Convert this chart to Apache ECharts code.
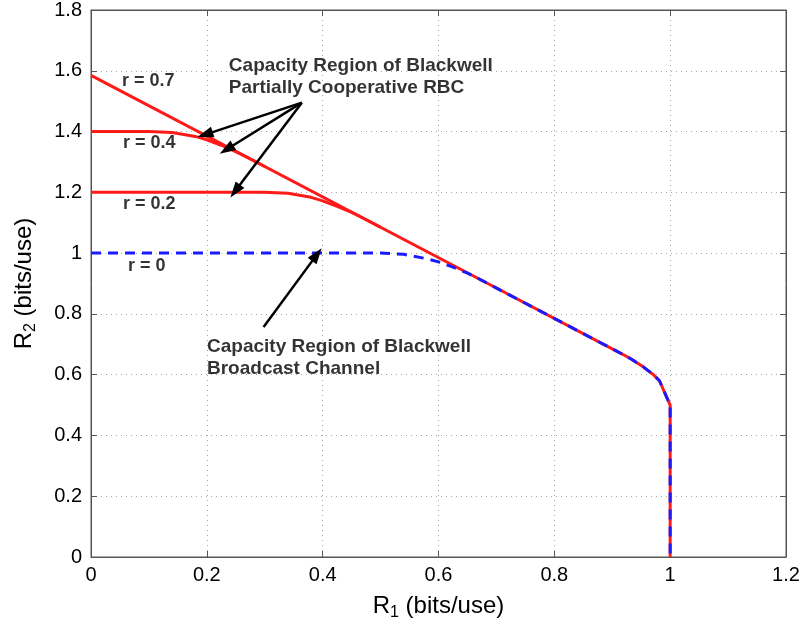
<!DOCTYPE html>
<html>
<head>
<meta charset="utf-8">
<script src="https://cdn.jsdelivr.net/npm/echarts@6/dist/echarts.min.js"></script>
<style>html,body{margin:0;padding:0;background:#fff;}#c{width:805px;height:626px;}</style>
</head>
<body>
<div id="c"></div>
<script>
// Tick values
const xTicks = [0, 0.2, 0.4, 0.6, 0.8, 1, 1.2];
const yTicks = [0, 0.2, 0.4, 0.6, 0.8, 1, 1.2, 1.4, 1.6, 1.8];

// Capacity boundaries [R1, R2]
const r07 = [[0,1.585],[0.667,0.918],[0.918,0.667],[0.934,0.65],[0.954,0.625],[0.971,0.6],[0.9815,0.58],[1,0.5],[1,0]];
const r04 = [[0,1.4],[0.1,1.4],[0.14,1.397],[0.18,1.384],[0.2,1.373],[0.225,1.355],[0.25,1.334],[0.267,1.318],[0.3,1.285]];
const r02 = [[0,1.2],[0.3,1.2],[0.34,1.197],[0.38,1.1835],[0.4,1.172],[0.425,1.154],[0.45,1.134],[0.467,1.118],[0.5,1.085]];
const r00 = [[0,1],[0.5,1],[0.54,0.996],[0.58,0.9815],[0.6,0.971],[0.625,0.954],[0.65,0.934],[0.667,0.918],[0.918,0.667],[0.934,0.65],[0.954,0.625],[0.971,0.6],[0.9815,0.58],[1,0.5],[1,0]];

// Text annotations [R1, R2, text]
const curveLabels = [[0.0535,1.565,'r = 0.7'],[0.0553,1.362,'r = 0.4'],[0.0553,1.160,'r = 0.2'],[0.064,0.956,'r = 0']];
const noteLabels = [[0.238,1.580,'Capacity Region of Blackwell\nPartially Cooperative RBC'],[0.2003,0.657,'Capacity Region of Blackwell\nBroadcast Channel']];

// Arrows [fromR1, fromR2, toR1, toR2]
const arrows = [[0.364,1.495,0.197,1.390],[0.364,1.495,0.234,1.341],[0.364,1.495,0.249,1.204],[0.298,0.757,0.390,0.995]];

const FONT = 'Liberation Sans, Arial, sans-serif';
const chart = echarts.init(document.getElementById('c'), null, {renderer:'canvas'});

const gridLine = {show:true, lineStyle:{color:'#a8a8a8', type:[1,4], width:1}};
const axisLineStyle = {show:true, onZero:false, lineStyle:{color:'#555', width:1}};

chart.setOption({
  animation:false,
  backgroundColor:'#fff',
  grid:{left:91, right:19, top:10, bottom:69, show:true, borderColor:'#555', borderWidth:1},
  xAxis:[{
    type:'value', min:0, max:1.2, interval:0.2, position:'bottom',
    axisLine:axisLineStyle,
    axisTick:{show:true, inside:true, length:6, lineStyle:{color:'#555'}},
    axisLabel:{color:'#000', fontSize:20, fontFamily:FONT, margin:8,
      formatter:function(v){ return xTicks.indexOf(+v.toFixed(1))>=0 ? String(+v.toFixed(1)) : ''; }},
    splitLine:gridLine,
    name:'{a|R}{s|1}{a| (bits/use)}', nameLocation:'middle', nameGap:34,
    nameTextStyle:{color:'#000', fontFamily:FONT, rich:{
      a:{fontSize:24, fontFamily:FONT, color:'#000', lineHeight:30, verticalAlign:'middle'},
      s:{fontSize:16, fontFamily:FONT, color:'#000', lineHeight:30, verticalAlign:'bottom', padding:[14,0,0,0]}}}
  },{
    type:'value', min:0, max:1.2, interval:0.2, position:'top',
    axisLine:axisLineStyle,
    axisTick:{show:true, inside:true, length:6, lineStyle:{color:'#555'}},
    axisLabel:{show:false}, splitLine:{show:false}
  }],
  yAxis:[{
    type:'value', min:0, max:1.8, interval:0.2, position:'left',
    axisLine:axisLineStyle,
    axisTick:{show:true, inside:true, length:6, lineStyle:{color:'#555'}},
    axisLabel:{color:'#000', fontSize:20, fontFamily:FONT, margin:9,
      formatter:function(v){ return yTicks.indexOf(+v.toFixed(1))>=0 ? String(+v.toFixed(1)) : ''; }},
    splitLine:gridLine,
    name:'{a|R}{s|2}{a| (bits/use)}', nameLocation:'middle', nameGap:52,
    nameTextStyle:{color:'#000', fontFamily:FONT, rich:{
      a:{fontSize:24, fontFamily:FONT, color:'#000', lineHeight:30, verticalAlign:'middle'},
      s:{fontSize:16, fontFamily:FONT, color:'#000', lineHeight:30, verticalAlign:'bottom', padding:[14,0,0,0]}}}
  },{
    type:'value', min:0, max:1.8, interval:0.2, position:'right',
    axisLine:axisLineStyle,
    axisTick:{show:true, inside:true, length:6, lineStyle:{color:'#555'}},
    axisLabel:{show:false}, splitLine:{show:false}
  }],
  series:[
    {type:'line', data:r07, symbol:'none', lineStyle:{color:'#ff1a1a', width:3}, z:2},
    {type:'line', data:r04, symbol:'none', lineStyle:{color:'#ff1a1a', width:3}, z:2},
    {type:'line', data:r02, symbol:'none', lineStyle:{color:'#ff1a1a', width:3}, z:2},
    {type:'line', data:r00, symbol:'none', lineStyle:{color:'#1a1aff', width:3, type:[10,7]}, z:3},
    {type:'line', data:[], symbol:'none', z:4,
      markLine:{silent:true, animation:false, symbol:['none','triangle'], symbolSize:[11,16],
        label:{show:false}, lineStyle:{color:'#000', width:2.5, type:'solid'},
        itemStyle:{color:'#000'},
        data:arrows.map(a=>[{coord:[a[0],a[1]]},{coord:[a[2],a[3]]}])}},
    {type:'scatter', data:curveLabels, symbolSize:0, z:5, silent:true,
      label:{show:true, position:[0,0], align:'left', verticalAlign:'middle',
        formatter:p=>p.data[2], fontFamily:FONT, fontWeight:'bold', fontSize:18, color:'#000', textBorderWidth:0}},
    {type:'scatter', data:noteLabels, symbolSize:0, z:5, silent:true,
      label:{show:true, position:[0,0], align:'left', verticalAlign:'middle', lineHeight:22,
        formatter:p=>p.data[2], fontFamily:FONT, fontWeight:'bold', fontSize:19, color:'#000', textBorderWidth:0}}
  ]
});
</script>
</body>
</html>
